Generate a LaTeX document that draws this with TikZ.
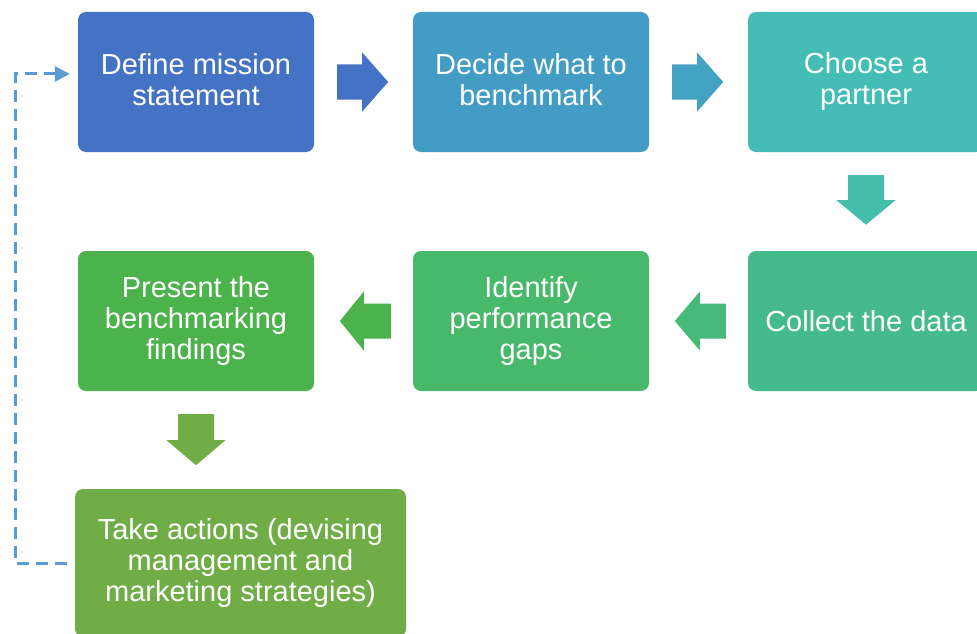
\documentclass[tikz,border=0pt]{standalone}
\usepackage{fontspec}
\setmainfont{Liberation Sans}
\usepackage{tikz}
\usetikzlibrary{arrows.meta}

\definecolor{cA}{HTML}{4472C4}
\definecolor{cB}{HTML}{439CC3}
\definecolor{cC}{HTML}{44BDB7}
\definecolor{cD}{HTML}{45BB8D}
\definecolor{cE}{HTML}{48B86A}
\definecolor{cF}{HTML}{4BB24C}
\definecolor{cG}{HTML}{70AD47}
\definecolor{aB}{HTML}{43A2C2}
\definecolor{aC}{HTML}{45BEAB}
\definecolor{aD}{HTML}{47B97A}
\definecolor{loopblue}{HTML}{5B9BD5}

\begin{document}
\begin{tikzpicture}[x=1pt,y=-1pt,
    box/.style={rounded corners=8pt, minimum width=236pt, minimum height=140pt,
        text=white, align=center, inner sep=0pt,
        font=\fontsize{29}{31}\selectfont,
        execute at begin node=\rule{0pt}{26pt},
        execute at end node=\rule[-5pt]{0pt}{5pt}},
    loopline/.style={draw=loopblue, line width=3pt, dash pattern=on 12pt off 7pt,
        -{Triangle[length=15pt,width=15pt]}}]
\useasboundingbox (0,0) rectangle (977,634);
\node (def) [box, fill=cA] at (196,82) {Define mission\\statement};
\node (dec) [box, fill=cB] at (531,82) {Decide what to\\benchmark};
\node (cho) [box, fill=cC] at (866,82) {Choose a\\partner};
\node (col) [box, fill=cD] at (866,321) {Collect the data};
\node (idf) [box, fill=cE] at (531,321) {Identify\\performance\\gaps};
\node (pre) [box, fill=cF] at (196,321) {Present the\\benchmarking\\findings};
\node (act) [box, fill=cG, minimum width=331pt, minimum height=148pt]
    at (240.5,563) {Take actions (devising\\management and\\marketing strategies)};
% block arrows between the steps
\fill[cA] (def.east) ++(23,-17.5) -- ++(25,0) -- ++(0,-12)
    -- ++(26,29.5) -- ++(-26,29.5) -- ++(0,-12) -- ++(-25,0) -- cycle;
\fill[aB] (dec.east) ++(23,-17.5) -- ++(25,0) -- ++(0,-12)
    -- ++(26,29.5) -- ++(-26,29.5) -- ++(0,-12) -- ++(-25,0) -- cycle;
\fill[aC] (cho.south) ++(-18,23) -- ++(0,25) -- ++(-11.5,0)
    -- ++(29.5,24.5) -- ++(29.5,-24.5) -- ++(-11.5,0) -- ++(0,-25) -- cycle;
\fill[aD] (col.west) ++(-22,-17.5) -- ++(-26,0) -- ++(0,-12)
    -- ++(-25,29.5) -- ++(25,29.5) -- ++(0,-12) -- ++(26,0) -- cycle;
\fill[cF] (idf.west) ++(-22,-17.5) -- ++(-27,0) -- ++(0,-12)
    -- ++(-24,29.5) -- ++(24,29.5) -- ++(0,-12) -- ++(27,0) -- cycle;
\fill[cG] (pre.south) ++(-18,23) -- ++(0,26) -- ++(-11.5,0)
    -- ++(29.5,25) -- ++(29.5,-25) -- ++(-11.5,0) -- ++(0,-26) -- cycle;
% dashed return path
\coordinate (lp0) at ([xshift=-8pt]act.west);
\coordinate (lp1) at ([xshift=-8pt,yshift=8pt]def.west);
\draw[loopline] (lp0) -- (lp0 -| 15,0) -- (lp1 -| 15,0) -- (lp1);
\end{tikzpicture}
\end{document}
